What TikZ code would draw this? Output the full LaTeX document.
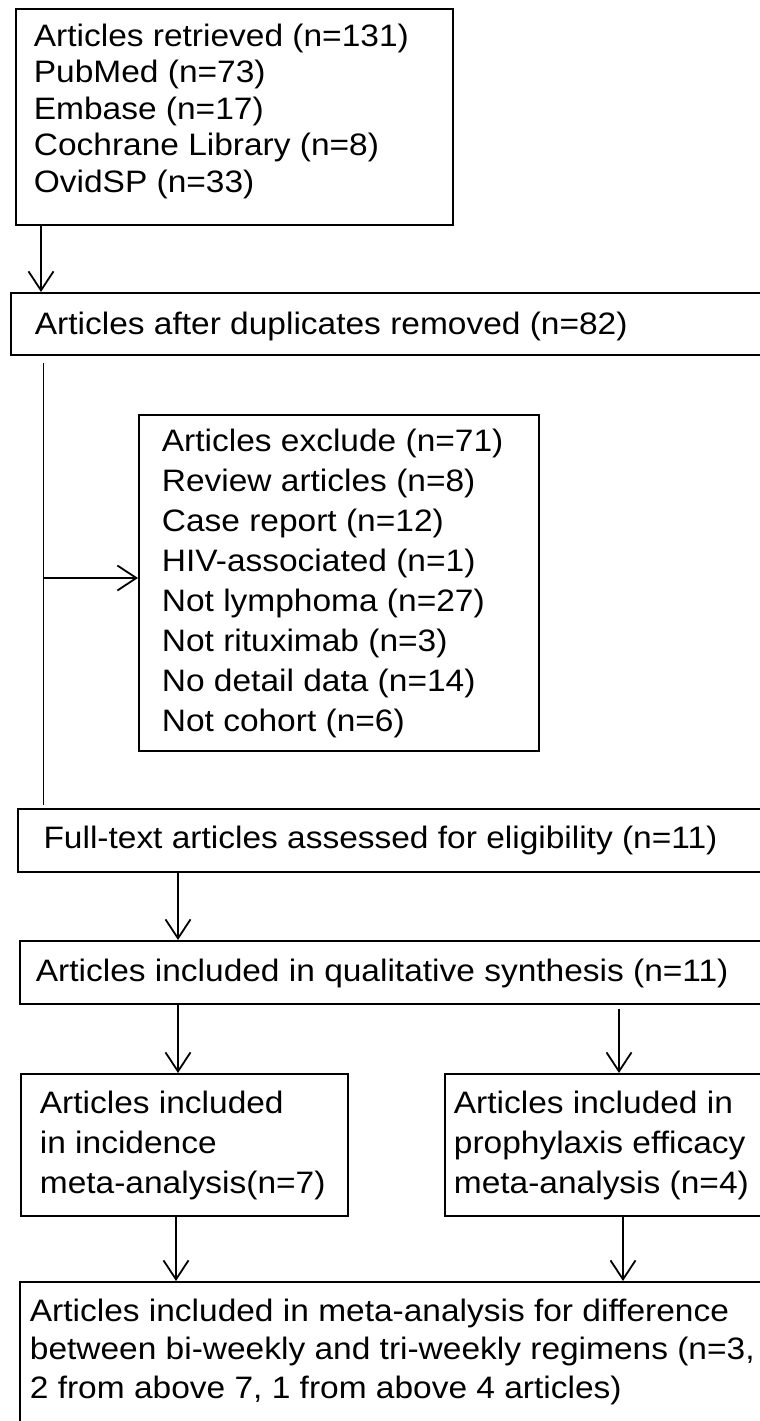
\documentclass[tikz,border=0pt]{standalone}
\usepackage{fontspec}
\setmainfont{Liberation Sans}[FakeStretch=1.08]
\usetikzlibrary{arrows.meta}

\tikzset{
    box/.style={draw, line width=1.8pt, inner sep=0pt, anchor=north west},
    txt/.style={inner sep=0pt, align=left, anchor=north west,
        font=\fontsize{31}{#1}\selectfont},
    txt/.default=38.5
}

\begin{document}
\begin{tikzpicture}[x=1pt, y=-1pt, line width=1.8pt,
    >={Straight Barb[length=19pt, width=25pt]}]
    \useasboundingbox (0,0) rectangle (760,1421);
    \clip (0,0) rectangle (760,1421);

    % the box of the retrieved articles
    \node[box, minimum width=437pt, minimum height=216pt] (retr) at (15,8) {};
    \node[txt=36.5] (retrtxt) at (33,22.8) {Articles retrieved (n=131)\\PubMed (n=73)\\
        Embase (n=17)\\Cochrane Library (n=8)\\OvidSP (n=33)};

    % the box after duplicates removed
    \node[box, minimum width=750pt, minimum height=62pt] (dup) at (10,292) {};
    \node[txt] (duptxt) at (34,310.8) {Articles after duplicates removed (n=82)};

    % the box of the excluded articles
    \node[box, minimum width=400pt, minimum height=336pt] (excl) at (138,414) {};
    \node[txt=40] (excltxt) at (161,427.8) {Articles exclude (n=71)\\Review articles (n=8)\\
        Case report (n=12)\\HIV-associated (n=1)\\Not lymphoma (n=27)\\
        Not rituximab (n=3)\\No detail data (n=14)\\Not cohort (n=6)};

    % the box of the full-text articles
    \node[box, minimum width=743pt, minimum height=63pt] (full) at (17,808) {};
    \node[txt] (fulltxt) at (42.6,825.4) {Full-text articles assessed for eligibility (n=11)};

    % the box of the qualitative synthesis
    \node[box, minimum width=741pt, minimum height=63pt] (qual) at (19,940) {};
    \node[txt] (qualtxt) at (35,957.8) {Articles included in qualitative synthesis (n=11)};

    % the two boxes of the meta-analyses
    \node[box, minimum width=327pt, minimum height=142pt] (inc) at (20,1073) {};
    \node[txt=40] (inctxt) at (39,1089.8) {Articles included\\in incidence\\meta-analysis(n=7)};
    \node[box, minimum width=316pt, minimum height=142pt] (pro) at (444,1073) {};
    \node[txt=40] (protxt) at (453,1089.8) {Articles included in\\prophylaxis efficacy\\meta-analysis (n=4)};

    % the last box, cut by the lower edge
    \node[box, minimum width=741pt, minimum height=170pt] (regim) at (19,1281) {};
    \node[txt] (regimtxt) at (29,1297.8) {Articles included in meta-analysis for difference\\
        between bi-weekly and tri-weekly regimens (n=3,\\2 from above 7, 1 from above 4 articles)};

    % arrow from the retrieved articles
    \coordinate (p1) at ([xshift=26pt]retr.south west);
    \draw[->] (p1) -- (p1 |- dup.north);

    % the long vertical line and the arrow to the excluded articles
    \coordinate (p2) at ([xshift=33.5pt, yshift=-7pt]dup.south west);
    \coordinate (p2end) at (p2 |- 0,805);
    \draw (p2) -- (p2end);
    \coordinate (p2mid) at (p2 |- 0,578);
    \draw[->] (p2mid) -- (p2mid -| excl.west);

    % arrow to the qualitative synthesis
    \coordinate (p3) at ([xshift=161pt]full.south west);
    \draw[->] (p3) -- (p3 |- qual.north);

    % the two arrows to the meta-analyses
    \coordinate (p4) at ([xshift=159pt]qual.south west);
    \draw[->] (p4) -- (p4 |- inc.north);
    \coordinate (p5) at ([xshift=600pt, yshift=-4pt]qual.south west);
    \draw[->] (p5) -- (p5 |- pro.north);

    % the two arrows to the last box
    \coordinate (p6) at ([xshift=156pt]inc.south west);
    \draw[->] (p6) -- (p6 |- regim.north);
    \coordinate (p7) at ([xshift=179pt]pro.south west);
    \draw[->] (p7) -- (p7 |- regim.north);
\end{tikzpicture}
\end{document}
